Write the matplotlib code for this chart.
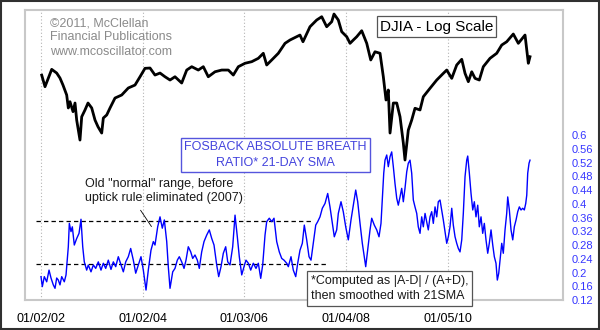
import matplotlib
matplotlib.use("Agg")
import matplotlib.pyplot as plt
from matplotlib.patches import Rectangle

plt.rcParams['font.family'] = ['Liberation Sans', 'DejaVu Sans']

# DJIA closes (log scale panel), sampled as decimal years
djia_dates = [
    2002.014, 2002.079, 2002.211, 2002.309, 2002.374, 2002.433, 2002.506, 2002.538,
    2002.571, 2002.631, 2002.670, 2002.703, 2002.768, 2002.802, 2002.867, 2002.926,
    2002.999, 2003.064, 2003.123, 2003.196, 2003.228, 2003.295, 2003.360, 2003.458,
    2003.590, 2003.720, 2003.852, 2003.951, 2004.049, 2004.148, 2004.246, 2004.345,
    2004.443, 2004.542, 2004.640, 2004.772, 2004.871, 2004.970, 2005.099, 2005.198,
    2005.296, 2005.429, 2005.561, 2005.691, 2005.789, 2005.888, 2006.020, 2006.152,
    2006.282, 2006.380, 2006.447, 2006.546, 2006.676, 2006.808, 2006.906, 2007.103,
    2007.162, 2007.300, 2007.432, 2007.531, 2007.629, 2007.728, 2007.773, 2007.858,
    2007.925, 2008.024, 2008.089, 2008.154, 2008.221, 2008.319, 2008.418, 2008.497,
    2008.581, 2008.680, 2008.745, 2008.798, 2008.843, 2008.877, 2008.942, 2009.009,
    2009.074, 2009.139, 2009.172, 2009.237, 2009.304, 2009.369, 2009.468, 2009.533,
    2009.665, 2009.797, 2009.927, 2009.994, 2010.093, 2010.191, 2010.290, 2010.355,
    2010.420, 2010.487, 2010.552, 2010.636, 2010.715, 2010.847, 2010.979, 2011.078,
    2011.176, 2011.306, 2011.405, 2011.537, 2011.602, 2011.635,
]
djia_close = [
    10250, 9644, 10570, 10366, 10095, 9728, 9229, 8618,
    8907, 8451, 8846, 8083, 7272, 8226, 8527, 8846,
    8618, 8083, 7802, 7547, 8171, 8305, 8618, 9082,
    9229, 9578, 9728, 10165, 10628, 10645, 10257, 10366,
    10165, 9991, 10165, 9833, 10532, 10720, 10532, 10720,
    10165, 10437, 10532, 10532, 10257, 10720, 10916, 11008,
    11206, 11508, 10817, 11108, 11508, 12131, 12345, 12675,
    12233, 13244, 13723, 13964, 13244, 13600, 14165, 13723,
    12900, 12562, 12131, 12345, 12562, 12967, 12131, 11108,
    11601, 11508, 10165, 8988, 9477, 7547, 8846, 8846,
    8226, 7159, 6543, 7665, 8083, 8604, 8527, 9145,
    9563, 9991, 10349, 10532, 10079, 10817, 11148, 10349,
    9902, 10437, 10079, 9991, 10720, 11206, 11508, 12022,
    12233, 12743, 12131, 12675, 10916, 11300,
]

# Fosback absolute breadth ratio, 21-day SMA
ratio_dates = [
    2002.000, 2002.026, 2002.065, 2002.112, 2002.158, 2002.197, 2002.242, 2002.276,
    2002.309, 2002.341, 2002.374, 2002.408, 2002.459, 2002.493, 2002.538, 2002.558,
    2002.591, 2002.617, 2002.656, 2002.703, 2002.749, 2002.788, 2002.822, 2002.853,
    2002.900, 2002.932, 2002.985, 2003.031, 2003.078, 2003.129, 2003.182, 2003.228,
    2003.275, 2003.326, 2003.379, 2003.425, 2003.472, 2003.523, 2003.576, 2003.622,
    2003.669, 2003.720, 2003.767, 2003.819, 2003.866, 2003.917, 2003.970, 2004.016,
    2004.069, 2004.114, 2004.167, 2004.213, 2004.246, 2004.299, 2004.345, 2004.390,
    2004.430, 2004.477, 2004.508, 2004.542, 2004.595, 2004.640, 2004.686, 2004.725,
    2004.772, 2004.818, 2004.857, 2004.902, 2004.950, 2004.989, 2005.034, 2005.080,
    2005.119, 2005.166, 2005.212, 2005.265, 2005.316, 2005.364, 2005.409, 2005.462,
    2005.501, 2005.547, 2005.592, 2005.639, 2005.679, 2005.724, 2005.777, 2005.823,
    2005.868, 2005.907, 2005.955, 2006.000, 2006.039, 2006.085, 2006.132, 2006.183,
    2006.236, 2006.282, 2006.329, 2006.368, 2006.414, 2006.447, 2006.498, 2006.546,
    2006.591, 2006.644, 2006.695, 2006.743, 2006.788, 2006.841, 2006.873, 2006.926,
    2006.971, 2007.019, 2007.058, 2007.103, 2007.149, 2007.188, 2007.235, 2007.281,
    2007.320, 2007.365, 2007.413, 2007.452, 2007.497, 2007.543, 2007.596, 2007.649,
    2007.694, 2007.740, 2007.779, 2007.826, 2007.858, 2007.911, 2007.956, 2008.004,
    2008.055, 2008.108, 2008.154, 2008.201, 2008.240, 2008.286, 2008.331, 2008.370,
    2008.398, 2008.437, 2008.483, 2008.516, 2008.567, 2008.615, 2008.660, 2008.699,
    2008.725, 2008.753, 2008.778, 2008.812, 2008.843, 2008.877, 2008.910, 2008.942,
    2008.975, 2009.009, 2009.040, 2009.074, 2009.107, 2009.139, 2009.172, 2009.206,
    2009.237, 2009.271, 2009.304, 2009.336, 2009.369, 2009.403, 2009.434, 2009.468,
    2009.501, 2009.533, 2009.567, 2009.600, 2009.631, 2009.665, 2009.698, 2009.730,
    2009.764, 2009.797, 2009.828, 2009.862, 2009.895, 2009.927, 2009.961, 2009.994,
    2010.026, 2010.059, 2010.093, 2010.124, 2010.158, 2010.191, 2010.223, 2010.256,
    2010.290, 2010.321, 2010.355, 2010.388, 2010.408, 2010.440, 2010.473, 2010.507,
    2010.538, 2010.571, 2010.605, 2010.636, 2010.670, 2010.703, 2010.735, 2010.768,
    2010.802, 2010.833, 2010.867, 2010.901, 2010.932, 2010.965, 2010.991, 2011.019,
    2011.044, 2011.078, 2011.109, 2011.143, 2011.176, 2011.196, 2011.228, 2011.261,
    2011.295, 2011.326, 2011.360, 2011.393, 2011.425, 2011.458, 2011.492, 2011.523,
    2011.551, 2011.571, 2011.590, 2011.616, 2011.635,
]
ratio_sma = [
    0.188, 0.159, 0.188, 0.173, 0.207, 0.184, 0.164, 0.154,
    0.184, 0.178, 0.164, 0.188, 0.173, 0.193, 0.275, 0.343,
    0.319, 0.333, 0.280, 0.299, 0.314, 0.355, 0.275, 0.231,
    0.207, 0.222, 0.202, 0.222, 0.212, 0.231, 0.207, 0.227,
    0.212, 0.236, 0.209, 0.231, 0.217, 0.246, 0.222, 0.202,
    0.231, 0.246, 0.270, 0.236, 0.198, 0.222, 0.246, 0.207,
    0.149, 0.207, 0.265, 0.290, 0.280, 0.333, 0.362, 0.329,
    0.353, 0.290, 0.217, 0.154, 0.202, 0.212, 0.236, 0.246,
    0.231, 0.212, 0.236, 0.275, 0.260, 0.241, 0.251, 0.236,
    0.212, 0.260, 0.290, 0.309, 0.324, 0.299, 0.280, 0.222,
    0.188, 0.217, 0.256, 0.275, 0.231, 0.222, 0.275, 0.367,
    0.304, 0.246, 0.193, 0.217, 0.236, 0.227, 0.207, 0.227,
    0.212, 0.227, 0.183, 0.222, 0.309, 0.348, 0.358, 0.348,
    0.358, 0.290, 0.260, 0.241, 0.236, 0.227, 0.217, 0.246,
    0.207, 0.188, 0.227, 0.265, 0.285, 0.338, 0.295, 0.246,
    0.236, 0.285, 0.338, 0.348, 0.362, 0.387, 0.401, 0.430,
    0.391, 0.343, 0.304, 0.324, 0.372, 0.406, 0.377, 0.333,
    0.295, 0.353, 0.396, 0.440, 0.406, 0.343, 0.285, 0.246,
    0.217, 0.265, 0.324, 0.358, 0.338, 0.324, 0.304, 0.343,
    0.411, 0.489, 0.527, 0.542, 0.508, 0.537, 0.551, 0.508,
    0.459, 0.416, 0.396, 0.420, 0.445, 0.406, 0.445, 0.493,
    0.518, 0.527, 0.489, 0.411, 0.391, 0.372, 0.333, 0.314,
    0.362, 0.333, 0.372, 0.348, 0.324, 0.362, 0.377, 0.343,
    0.391, 0.362, 0.406, 0.411, 0.382, 0.353, 0.319, 0.285,
    0.304, 0.333, 0.387, 0.338, 0.304, 0.285, 0.270, 0.260,
    0.295, 0.372, 0.479, 0.527, 0.539, 0.489, 0.430, 0.382,
    0.406, 0.362, 0.396, 0.333, 0.362, 0.314, 0.343, 0.295,
    0.256, 0.285, 0.324, 0.280, 0.246, 0.227, 0.178, 0.198,
    0.236, 0.285, 0.256, 0.324, 0.372, 0.420, 0.382, 0.324,
    0.295, 0.333, 0.353, 0.377, 0.391, 0.382, 0.387, 0.382,
    0.401, 0.425, 0.489, 0.518, 0.527,
]

# old "normal" band levels and the span they cover
band_levels = [0.35, 0.225]
band_ends = [2007.36, 2007.63]

tick_dates = [2002.003, 2004.003, 2006.005, 2008.010, 2010.011]
tick_labels = ['01/02/02', '01/02/04', '01/03/06', '01/04/08', '01/05/10']
ratio_ticks = [0.12, 0.16, 0.2, 0.24, 0.28, 0.32, 0.36, 0.4, 0.44, 0.48, 0.52, 0.56, 0.6]
ratio_labels = ['0.12', '0.16', '0.2', '0.24', '0.28', '0.32', '0.36', '0.4',
                '0.44', '0.48', '0.52', '0.56', '0.6']

fig = plt.figure(figsize=(6, 3.3), dpi=100)
ax = fig.add_axes([0.0417, 0.0909, 0.8967, 0.8788])
ax2 = ax.twinx()

# DJIA on a log axis
ax.plot(djia_dates, djia_close, color='black', lw=2.0, zorder=3)
ax.set_yscale('log')
ax.set_ylim(3120, 14470)
ax.set_xlim(2001.685, 2012.286)
ax.set_yticks([])
ax.minorticks_off()
ax.set_yticks([], minor=True)
ax.set_xticks(tick_dates)
ax.set_xticklabels(tick_labels, fontsize=9)
ax.tick_params(axis='x', length=0, pad=9.5)
for x in tick_dates:
    ax.axvline(x, color='#b4b4b4', lw=0.8, ls=(0, (1, 2)), zorder=1)
for s in ax.spines.values():
    s.set_color('#c8c8c8')
    s.set_linewidth(1.5)

# breadth ratio on the right axis
ax2.plot(ratio_dates, ratio_sma, color='#0000ff', lw=1.0, zorder=3)
ax2.set_ylim(0.12, 0.964)
ax2.set_yticks(ratio_ticks)
ax2.set_yticklabels(ratio_labels, fontsize=8, color='#3535ff')
ax2.tick_params(axis='y', length=0, pad=6.5)
for s in ax2.spines.values():
    s.set_visible(False)

x0 = 2001.9
for lvl, end in zip(band_levels, band_ends):
    ax2.plot([x0, end], [lvl, lvl], color='black', lw=0.9, ls=(0, (3.5, 2.5)), zorder=2)

ax2.annotate('', xy=(2004.207, 0.327), xytext=(2003.931, 0.388),
             arrowprops=dict(arrowstyle='-', color='black', lw=0.6))
ax2.text(2002.87, 0.437, 'Old "normal" range, before\nuptick rule eliminated (2007)',
         fontsize=9, color='#1a1a1a', va='center', ha='left', linespacing=1.25)

# labels and boxes
ax.text(0.046, 0.975, '\u00a92011, McClellan\nFinancial Publications\nwww.mcoscillator.com',
        transform=ax.transAxes, fontsize=9, color='#8a8a8a', va='top', ha='left',
        linespacing=1.25)
ax.text(0.765, 0.943, 'DJIA - Log Scale', transform=ax.transAxes, fontsize=11,
        ha='center', va='center', color='black',
        bbox=dict(boxstyle='square,pad=0.2', fc='white', ec='#555555', lw=0.9))
ax.text(0.465, 0.5, 'FOSBACK ABSOLUTE BREATH\nRATIO* 21-DAY SMA', transform=ax.transAxes,
        fontsize=9, ha='center', va='center', color='#4444dd', linespacing=1.35,
        bbox=dict(boxstyle='square,pad=0.25', fc='white', ec='#5555dd', lw=1.0),
        zorder=5)
ax.text(0.532, 0.04, '*Computed as |A-D| / (A+D),\nthen smoothed with 21SMA',
        transform=ax.transAxes, fontsize=9, ha='left', va='center', color='#1a1a1a',
        linespacing=1.3, zorder=5,
        bbox=dict(boxstyle='square,pad=0.3', fc='white', ec='#555555', lw=0.9))

fig.patches.append(Rectangle((0.002, 0.003), 0.996, 0.994, transform=fig.transFigure,
                             fill=False, ec='#303030', lw=1.5))

fig.savefig('out.png', dpi=100)
